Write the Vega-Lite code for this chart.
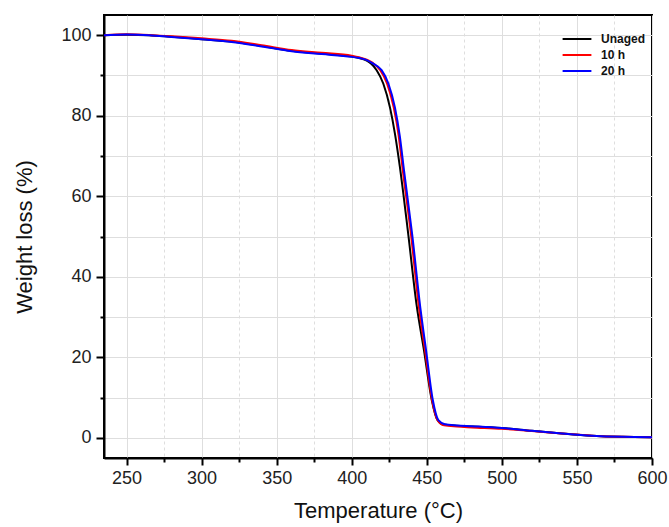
{
  "$schema": "https://vega.github.io/schema/vega-lite/v6.json",
  "width": 548,
  "height": 443,
  "autosize": {"type": "none"},
  "padding": {"left": 104, "top": 15, "right": 17, "bottom": 69},
  "background": "white",
  "config": {
    "view": {"stroke": "black", "strokeWidth": 2},
    "font": "Liberation Sans"
  },
  "data": {
    "values": [
      {"s": "Unaged", "T": 235, "W": 100.0},
      {"s": "Unaged", "T": 250, "W": 100.1},
      {"s": "Unaged", "T": 265, "W": 100.0},
      {"s": "Unaged", "T": 280, "W": 99.6},
      {"s": "Unaged", "T": 300, "W": 99.0},
      {"s": "Unaged", "T": 320, "W": 98.4},
      {"s": "Unaged", "T": 340, "W": 97.3},
      {"s": "Unaged", "T": 360, "W": 96.1},
      {"s": "Unaged", "T": 380, "W": 95.4},
      {"s": "Unaged", "T": 400, "W": 94.7},
      {"s": "Unaged", "T": 405, "W": 94.3},
      {"s": "Unaged", "T": 410, "W": 93.7},
      {"s": "Unaged", "T": 413, "W": 92.9},
      {"s": "Unaged", "T": 416.6, "W": 91.3},
      {"s": "Unaged", "T": 421, "W": 88.0},
      {"s": "Unaged", "T": 425.5, "W": 82.0},
      {"s": "Unaged", "T": 428.8, "W": 75.5},
      {"s": "Unaged", "T": 432, "W": 67.5},
      {"s": "Unaged", "T": 437.7, "W": 50.4},
      {"s": "Unaged", "T": 443.2, "W": 33.0},
      {"s": "Unaged", "T": 448.1, "W": 21.8},
      {"s": "Unaged", "T": 453.3, "W": 9.4},
      {"s": "Unaged", "T": 457, "W": 4.5},
      {"s": "Unaged", "T": 461, "W": 3.3},
      {"s": "Unaged", "T": 470, "W": 3.0},
      {"s": "Unaged", "T": 480, "W": 2.85},
      {"s": "Unaged", "T": 500, "W": 2.45},
      {"s": "Unaged", "T": 520, "W": 1.75},
      {"s": "Unaged", "T": 540, "W": 1.1},
      {"s": "Unaged", "T": 560, "W": 0.55},
      {"s": "Unaged", "T": 580, "W": 0.25},
      {"s": "Unaged", "T": 600, "W": 0.15},
      {"s": "10 h", "T": 235, "W": 100.0},
      {"s": "10 h", "T": 250, "W": 100.2},
      {"s": "10 h", "T": 265, "W": 100.05},
      {"s": "10 h", "T": 280, "W": 99.7},
      {"s": "10 h", "T": 300, "W": 99.2},
      {"s": "10 h", "T": 320, "W": 98.6},
      {"s": "10 h", "T": 340, "W": 97.5},
      {"s": "10 h", "T": 360, "W": 96.3},
      {"s": "10 h", "T": 380, "W": 95.6},
      {"s": "10 h", "T": 400, "W": 94.9},
      {"s": "10 h", "T": 405, "W": 94.5},
      {"s": "10 h", "T": 410, "W": 93.9},
      {"s": "10 h", "T": 414, "W": 93.1},
      {"s": "10 h", "T": 419, "W": 91.3},
      {"s": "10 h", "T": 423.5, "W": 88.0},
      {"s": "10 h", "T": 428, "W": 82.0},
      {"s": "10 h", "T": 431.2, "W": 75.2},
      {"s": "10 h", "T": 434, "W": 66.5},
      {"s": "10 h", "T": 439.5, "W": 50.4},
      {"s": "10 h", "T": 445, "W": 31.7},
      {"s": "10 h", "T": 448.8, "W": 21.8},
      {"s": "10 h", "T": 453.5, "W": 9.4},
      {"s": "10 h", "T": 457.3, "W": 4.3},
      {"s": "10 h", "T": 461.5, "W": 3.1},
      {"s": "10 h", "T": 470, "W": 2.8},
      {"s": "10 h", "T": 480, "W": 2.6},
      {"s": "10 h", "T": 500, "W": 2.25},
      {"s": "10 h", "T": 520, "W": 1.7},
      {"s": "10 h", "T": 540, "W": 1.1},
      {"s": "10 h", "T": 560, "W": 0.55},
      {"s": "10 h", "T": 580, "W": 0.25},
      {"s": "10 h", "T": 600, "W": 0.15},
      {"s": "20 h", "T": 235, "W": 100.0},
      {"s": "20 h", "T": 250, "W": 100.15},
      {"s": "20 h", "T": 265, "W": 100.0},
      {"s": "20 h", "T": 280, "W": 99.55},
      {"s": "20 h", "T": 300, "W": 98.95},
      {"s": "20 h", "T": 320, "W": 98.3},
      {"s": "20 h", "T": 340, "W": 97.2},
      {"s": "20 h", "T": 360, "W": 96.0},
      {"s": "20 h", "T": 380, "W": 95.3},
      {"s": "20 h", "T": 400, "W": 94.6},
      {"s": "20 h", "T": 405, "W": 94.3},
      {"s": "20 h", "T": 410, "W": 93.8},
      {"s": "20 h", "T": 414, "W": 93.0},
      {"s": "20 h", "T": 419.9, "W": 91.3},
      {"s": "20 h", "T": 424.4, "W": 88.0},
      {"s": "20 h", "T": 428.8, "W": 82.0},
      {"s": "20 h", "T": 432, "W": 75.0},
      {"s": "20 h", "T": 434.8, "W": 66.5},
      {"s": "20 h", "T": 440.3, "W": 50.4},
      {"s": "20 h", "T": 445.9, "W": 31.7},
      {"s": "20 h", "T": 449.5, "W": 21.8},
      {"s": "20 h", "T": 454, "W": 9.4},
      {"s": "20 h", "T": 457.7, "W": 4.4},
      {"s": "20 h", "T": 462, "W": 3.4},
      {"s": "20 h", "T": 470, "W": 3.1},
      {"s": "20 h", "T": 480, "W": 2.9},
      {"s": "20 h", "T": 500, "W": 2.45},
      {"s": "20 h", "T": 520, "W": 1.75},
      {"s": "20 h", "T": 540, "W": 1.1},
      {"s": "20 h", "T": 560, "W": 0.55},
      {"s": "20 h", "T": 580, "W": 0.25},
      {"s": "20 h", "T": 600, "W": 0.15}
    ]
  },
  "mark": {"type": "line", "strokeWidth": 2, "clip": true, "interpolate": "monotone"},
  "encoding": {
    "x": {
      "field": "T",
      "type": "quantitative",
      "scale": {"domain": [235, 600], "nice": false, "zero": false},
      "axis": {
        "title": "Temperature (°C)",
        "titleFontSize": 22,
        "titleFontWeight": "normal",
        "titleColor": "#111",
        "titlePadding": 13,
        "values": [250, 275, 300, 325, 350, 375, 400, 425, 450, 475, 500, 525, 550, 575, 600],
        "labelExpr": "datum.value % 50 === 0 ? datum.label : ''",
        "labelFontSize": 18,
        "labelColor": "#222",
        "labelPadding": 4,
        "labelFlush": false,
        "labelOverlap": false,
        "domainColor": "black",
        "domainWidth": 2,
        "tickColor": "black",
        "tickWidth": 2,
        "tickSize": {"condition": {"test": "datum.value % 50 === 0", "value": 7}, "value": 4},
        "grid": true,
        "gridColor": "#dedede",
        "gridWidth": 1,
        "gridDash": {"condition": {"test": "datum.value % 50 === 0", "value": []}, "value": [3, 3]}
      }
    },
    "y": {
      "field": "W",
      "type": "quantitative",
      "scale": {"domain": [-5, 105], "nice": false, "zero": false},
      "axis": {
        "title": "Weight loss (%)",
        "titleFontSize": 22,
        "titleFontWeight": "normal",
        "titleColor": "#111",
        "titlePadding": 24,
        "values": [0, 10, 20, 30, 40, 50, 60, 70, 80, 90, 100],
        "labelExpr": "datum.value % 20 === 0 ? datum.label : ''",
        "labelFontSize": 18,
        "labelColor": "#222",
        "labelPadding": 5,
        "labelFlush": false,
        "labelOverlap": false,
        "domainColor": "black",
        "domainWidth": 2,
        "tickColor": "black",
        "tickWidth": 2,
        "tickSize": {"condition": {"test": "datum.value % 20 === 0", "value": 8}, "value": 4},
        "grid": true,
        "gridColor": "#dedede",
        "gridWidth": 1
      }
    },
    "color": {
      "field": "s",
      "type": "nominal",
      "sort": ["Unaged", "10 h", "20 h"],
      "scale": {"domain": ["Unaged", "10 h", "20 h"], "range": ["#000000", "#ff0000", "#0000ff"]},
      "legend": {
        "title": null,
        "orient": "none",
        "legendX": 466,
        "legendY": 17,
        "padding": 0,
        "symbolType": "M-2.4,0H2.4",
        "symbolSize": 144,
        "symbolStrokeWidth": 2,
        "symbolFillColor": "transparent",
        "rowPadding": 3,
        "labelOffset": 17,
        "labelFontSize": 12,
        "labelFontWeight": "bold",
        "labelColor": "#111"
      }
    }
  }
}
